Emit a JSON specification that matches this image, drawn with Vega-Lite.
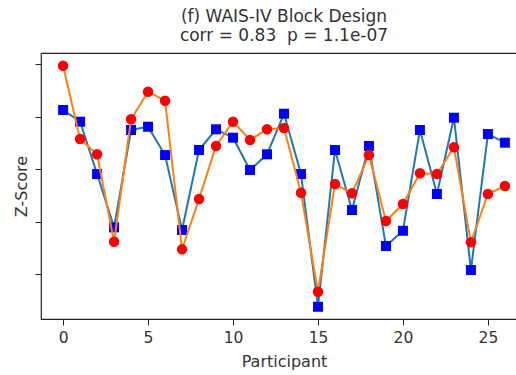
{
  "$schema": "https://vega.github.io/schema/vega-lite/v6.json",
  "autosize": {"type": "none"},
  "padding": {"left": 41, "top": 53, "right": 0, "bottom": 56},
  "width": 486,
  "height": 266,
  "background": "white",
  "config": {
    "font": "DejaVu Sans",
    "view": {"stroke": "#222222", "strokeWidth": 1.2},
    "axis": {"domain": false, "grid": false, "tickColor": "#222222", "tickSize": 6, "labelColor": "#333333", "titleColor": "#333333", "labelFont": "DejaVu Sans", "titleFont": "DejaVu Sans", "titleFontWeight": "normal", "labelFontSize": 15.5, "titleFontSize": 16}
  },
  "title": {
    "text": ["(f) WAIS-IV Block Design", "corr = 0.83\u00a0 p = 1.1e-07"],
    "fontSize": 17,
    "fontWeight": "normal",
    "font": "DejaVu Sans",
    "color": "#333333",
    "anchor": "middle",
    "offset": 8,
    "lineHeight": 19
  },
  "datasets": {
    "pts": [
      {"participant": 0, "blue": 1.13, "red": 1.973},
      {"participant": 1, "blue": 0.907, "red": 0.577},
      {"participant": 2, "blue": -0.09, "red": 0.286},
      {"participant": 3, "blue": -1.105, "red": -1.379},
      {"participant": 4, "blue": 0.749, "red": 0.952},
      {"participant": 5, "blue": 0.811, "red": 1.478},
      {"participant": 6, "blue": 0.272, "red": 1.307},
      {"participant": 7, "blue": -1.156, "red": -1.524},
      {"participant": 8, "blue": 0.368, "red": -0.566},
      {"participant": 9, "blue": 0.762, "red": 0.444},
      {"participant": 10, "blue": 0.602, "red": 0.907},
      {"participant": 11, "blue": -0.013, "red": 0.558},
      {"participant": 12, "blue": 0.286, "red": 0.762},
      {"participant": 13, "blue": 1.059, "red": 0.787},
      {"participant": 14, "blue": -0.09, "red": -0.446},
      {"participant": 15, "blue": -2.617, "red": -2.331},
      {"participant": 16, "blue": 0.368, "red": -0.28},
      {"participant": 17, "blue": -0.775, "red": -0.457},
      {"participant": 18, "blue": 0.444, "red": 0.272},
      {"participant": 19, "blue": -1.461, "red": -0.985},
      {"participant": 20, "blue": -1.17, "red": -0.661},
      {"participant": 21, "blue": 0.749, "red": -0.076},
      {"participant": 22, "blue": -0.47, "red": -0.09},
      {"participant": 23, "blue": 0.983, "red": 0.419},
      {"participant": 24, "blue": -1.918, "red": -1.39},
      {"participant": 25, "blue": 0.672, "red": -0.47},
      {"participant": 26, "blue": 0.507, "red": -0.318}
    ]
  },
  "data": {"name": "pts"},
  "encoding": {
    "x": {
      "field": "participant", "type": "quantitative",
      "scale": {"domain": [-1.3, 27.3], "nice": false, "zero": false},
      "axis": {"values": [0, 5, 10, 15, 20, 25], "title": "Participant", "titlePadding": 8, "labelPadding": 5}
    }
  },
  "layer": [
    {
      "mark": {"type": "line", "color": "#1f77b4", "strokeWidth": 2},
      "encoding": {
        "y": {"field": "blue", "type": "quantitative",
          "scale": {"domain": [-2.85, 2.215], "nice": false, "zero": false},
          "axis": {"values": [-2, -1, 0, 1, 2], "labels": false, "title": "Z-Score", "titlePadding": 5}}
      }
    },
    {
      "mark": {"type": "point", "shape": "square", "filled": true, "color": "#0000ff", "opacity": 1, "size": 100},
      "encoding": {"y": {"field": "blue", "type": "quantitative"}}
    },
    {
      "mark": {"type": "line", "color": "#ff7f0e", "strokeWidth": 2},
      "encoding": {"y": {"field": "red", "type": "quantitative"}}
    },
    {
      "mark": {"type": "point", "shape": "circle", "filled": true, "color": "#ff0000", "opacity": 1, "size": 110},
      "encoding": {"y": {"field": "red", "type": "quantitative"}}
    }
  ]
}
